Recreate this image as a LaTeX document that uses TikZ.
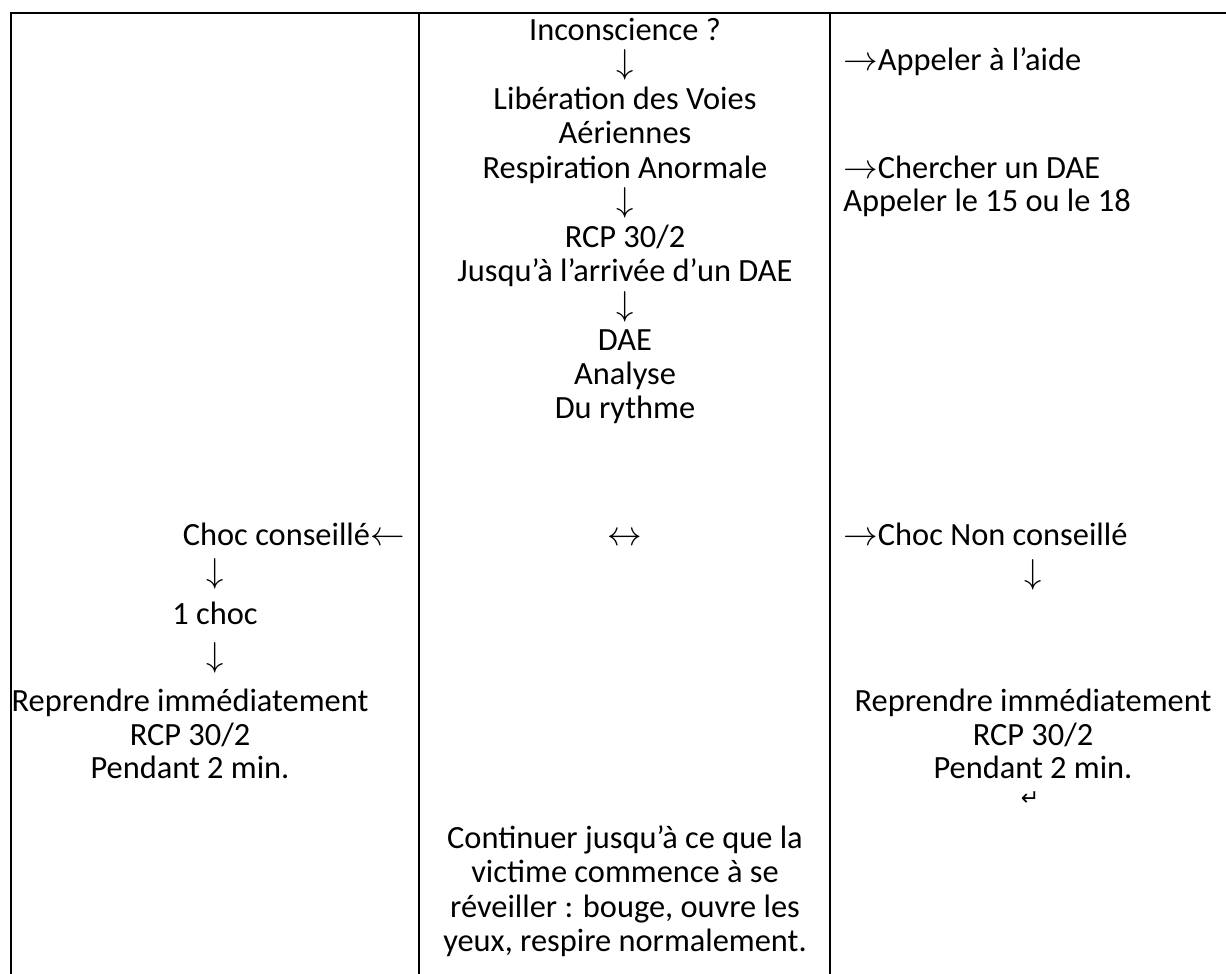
\documentclass[tikz,border=0pt]{standalone}
\usepackage{fontspec}
\setmainfont{Carlito}
\newfontfamily\dejavu{DejaVu Sans}
\begin{document}
\begin{tikzpicture}[x=0.5pt,y=-0.5pt,
  txt/.style={inner sep=0pt, font=\fontsize{16.2}{19}\selectfont},
  rule/.style={line width=1pt, line join=miter}]
\useasboundingbox (0,0) rectangle (1226,974);
% table lines
\draw[rule] (11,974) -- (11,13) -- (1226,13);
\draw[rule] (419,13) -- (419,974);
\draw[rule] (830,13) -- (830,974);
% centre column, first block
\node[txt, anchor=base] (c1) at (625,41) {Inconscience ?};
\node[txt, anchor=base] (c2) at (625,74) {$\downarrow$};
\node[txt, anchor=base] (c3) at (625,110) {Libération des Voies};
\node[txt, anchor=base] (c4) at (625,144) {Aériennes};
\node[txt, anchor=base] (c5) at (625,178) {Respiration Anormale};
\node[txt, anchor=base] (c6) at (625,212) {$\downarrow$};
\node[txt, anchor=base] (c7) at (625,247) {RCP 30/2};
\node[txt, anchor=base] (c8) at (625,281) {Jusqu’à l’arrivée d’un DAE};
\node[txt, anchor=base] (c9) at (625,315) {$\downarrow$};
\node[txt, anchor=base] (c10) at (625,350) {DAE};
\node[txt, anchor=base] (c11) at (625,384) {Analyse};
\node[txt, anchor=base] (c12) at (625,418) {Du rythme};
% right column, first block
\node[txt, anchor=base west] (r1) at (843,71) {$\rightarrow$Appeler à l’aide};
\node[txt, anchor=base west] (r2) at (843,178) {$\rightarrow$Chercher un DAE};
\node[txt, anchor=base west] (r3) at (843,212) {Appeler le 15 ou le 18};
% second block, left column
\node[txt, anchor=base east] (l1) at (405,545) {Choc conseillé$\leftarrow$};
\node[txt, anchor=base] (l2) at (215,582) {$\downarrow$};
\node[txt, anchor=base] (l3) at (215,624) {1 choc};
\node[txt, anchor=base] (l4) at (215,666) {$\downarrow$};
\node[txt, anchor=base] (l5) at (190,711) {Reprendre immédiatement};
\node[txt, anchor=base] (l6) at (190,745) {RCP 30/2};
\node[txt, anchor=base] (l7) at (190,778) {Pendant 2 min.};
% second block, centre column
\node[txt, anchor=base] (m1) at (625,545) {$\leftrightarrow$};
\node[txt, anchor=base] (m2) at (625,848) {Continuer jusqu’à ce que la};
\node[txt, anchor=base] (m3) at (625,882.5) {victime commence à se};
\node[txt, anchor=base] (m4) at (625,917) {réveiller : bouge, ouvre les};
\node[txt, anchor=base] (m5) at (625,951.5) {yeux, respire normalement.};
% second block, right column
\node[txt, anchor=base west] (n1) at (843,545) {$\rightarrow$Choc Non conseillé};
\node[txt, anchor=base] (n2) at (1033,583) {$\downarrow$};
\node[txt, anchor=base] (n3) at (1033,711) {Reprendre immédiatement};
\node[txt, anchor=base] (n4) at (1033,745) {RCP 30/2};
\node[txt, anchor=base] (n5) at (1033,778) {Pendant 2 min.};
\node[txt, anchor=base, font=\dejavu\fontsize{11}{13}\selectfont] (n6) at (1030,805) {↵};
\end{tikzpicture}
\end{document}
